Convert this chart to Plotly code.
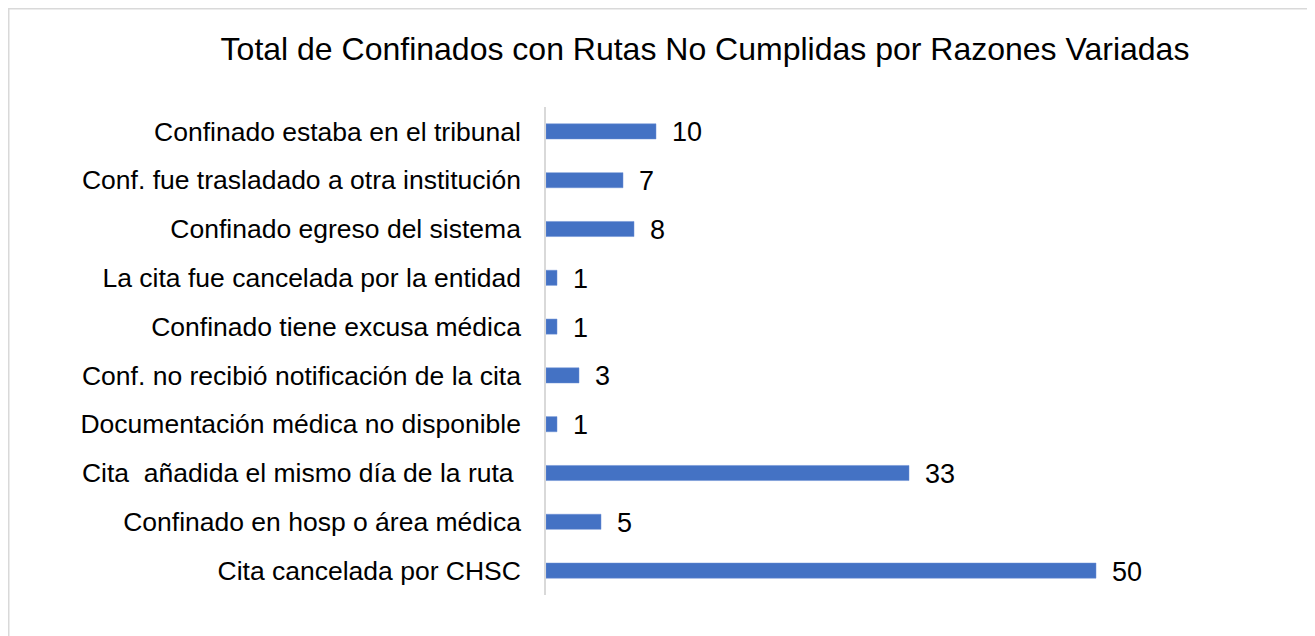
import plotly.graph_objects as go

categories = [
    "Confinado estaba en el tribunal",
    "Conf. fue trasladado a otra institución",
    "Confinado egreso del sistema",
    "La cita fue cancelada por la entidad",
    "Confinado tiene excusa médica",
    "Conf. no recibió notificación de la cita",
    "Documentación médica no disponible",
    "Cita\u00a0 añadida el mismo día de la ruta\u00a0",
    "Confinado en hosp o área médica",
    "Cita cancelada por CHSC",
]
values = [10, 7, 8, 1, 1, 3, 1, 33, 5, 50]

title_text = "Total de Confinados con Rutas No Cumplidas por Razones Variadas"

# page body has an 8px margin, so the figure is sized / positioned to compensate
OFF = 8
W, H = 1315 - OFF, 636 - OFF
L = 546 - OFF
T = 107 - OFF
R = W - (1151 - OFF)
B = H - (595 - OFF)
pw = W - L - R
ph = H - T - B

FONT = "Liberation Sans, Arial, sans-serif"

fig = go.Figure()
fig.add_trace(go.Bar(
    y=categories,
    x=values,
    orientation="h",
    marker=dict(color="#4472c4", line=dict(color="#6a8fd4", width=0.5)),
    hoverinfo="x+y",
))

for c, v in zip(categories, values):
    fig.add_annotation(
        x=v, y=c, text=str(v), showarrow=False,
        xanchor="left", yanchor="middle", xshift=14, yshift=-1,
        font=dict(family=FONT, size=27, color="#000000"),
    )

def px_to_paper_x(px):
    return (px - L) / pw

def px_to_paper_y(py):
    return (H - B - py) / ph

fig.add_shape(
    type="rect", xref="paper", yref="paper",
    x0=px_to_paper_x(0.75), x1=px_to_paper_x(1303.5 - OFF + 8),
    y0=px_to_paper_y(H + 10), y1=px_to_paper_y(0.75),
    line=dict(color="#d9d9d9", width=1.5), fillcolor="rgba(0,0,0,0)", layer="below",
)

fig.update_layout(
    width=W, height=H,
    margin=dict(l=L, r=R, t=T, b=B, pad=0),
    paper_bgcolor="#ffffff", plot_bgcolor="#ffffff",
    showlegend=False,
    bargap=0.69,
    title=dict(
        text=title_text, x=(705 - OFF) / W, xref="container", xanchor="center",
        y=1 - (49 - OFF) / H, yref="container", yanchor="middle",
        font=dict(family=FONT, size=32, color="#000000"),
    ),
    font=dict(family=FONT, color="#000000"),
)
fig.update_xaxes(
    range=[0, 55], showgrid=False, zeroline=False, showticklabels=False,
    showline=False, ticks="",
)
fig.update_yaxes(
    autorange="reversed", showgrid=False, zeroline=False,
    showline=True, linecolor="#d9d9d9", linewidth=1.5,
    ticks="outside", ticklen=18, tickcolor="rgba(0,0,0,0)",
    tickfont=dict(family=FONT, size=26.5, color="#000000"),
)

fig.write_html("out.html")
